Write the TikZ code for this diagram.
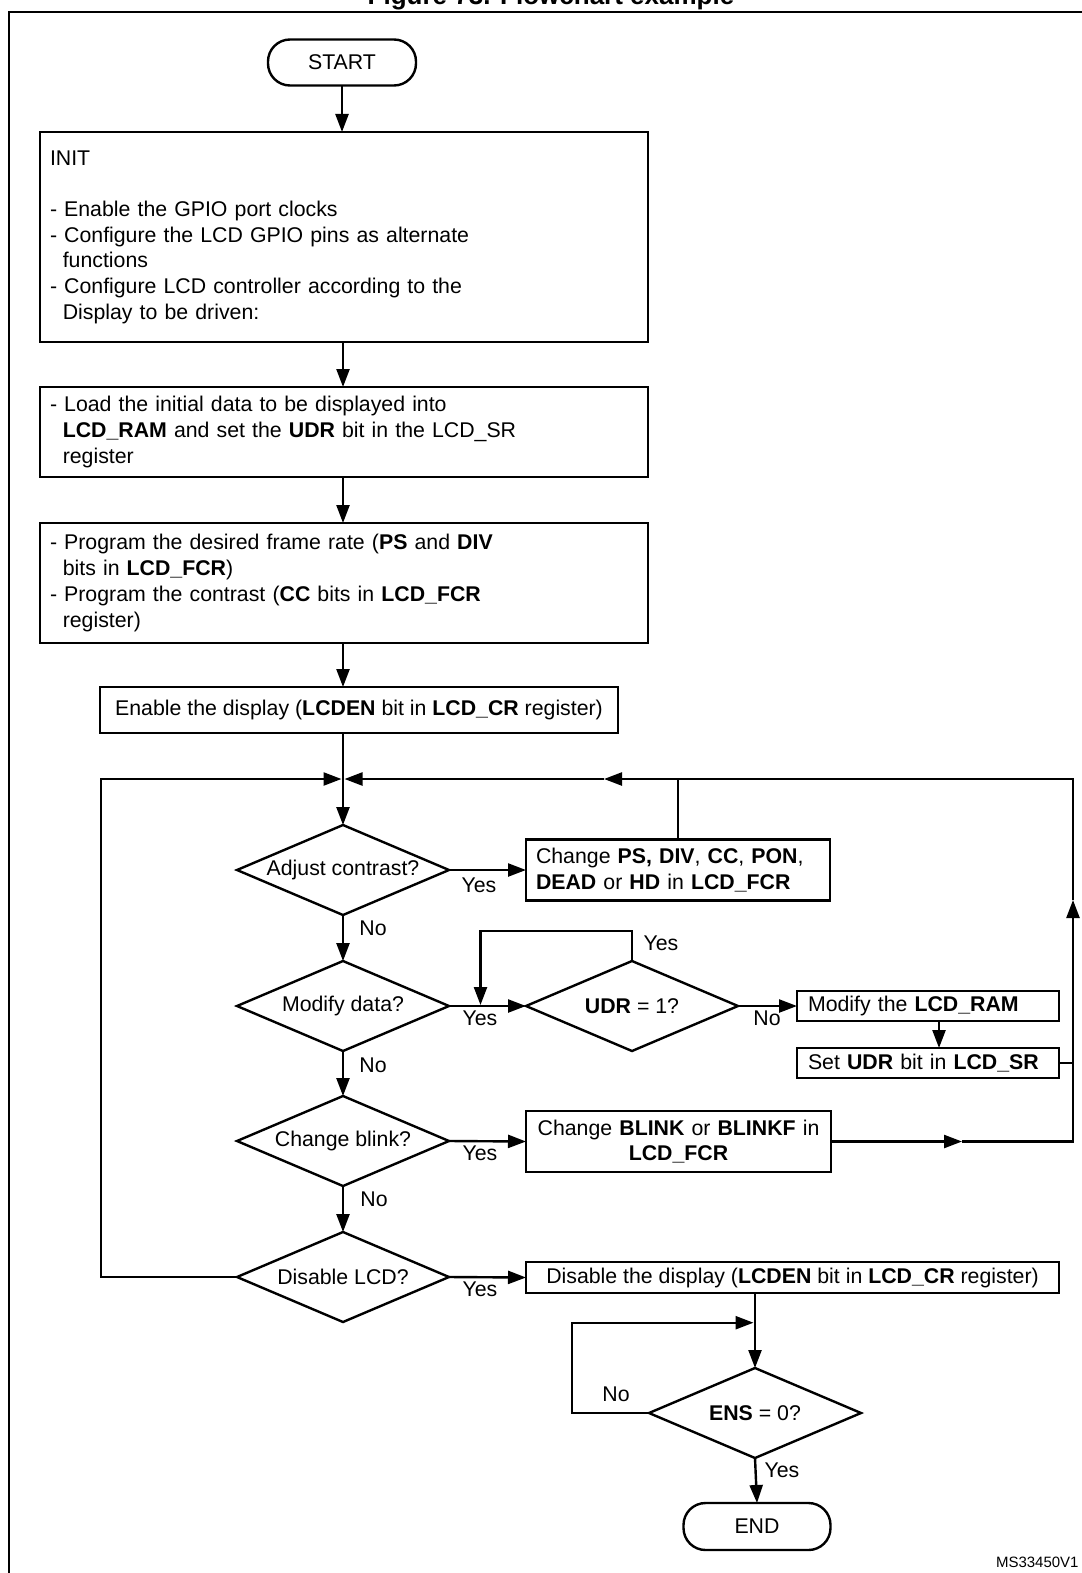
\documentclass[tikz,border=0pt]{standalone}
\usepackage{fontspec}
\setmainfont{Liberation Sans}
\usetikzlibrary{arrows.meta,shapes.geometric}
\newcommand\mfont{\fontsize{21.3pt}{25.7pt}\selectfont}
\begin{document}
\begin{tikzpicture}[x=1pt,y=1pt,
 every node/.style={font=\mfont, inner sep=0pt, outer sep=0pt},
 ln/.style={line width=2.4pt},
 arr/.style={line width=2.4pt,-{Triangle[length=18pt,width=13pt]}},
 box/.style={draw,line width=2.2pt,rectangle},
 lbox/.style={box, align=left, inner xsep=10pt},
 dia/.style={draw,line width=2.4pt,diamond,minimum width=212pt,minimum height=90pt},
 term/.style={draw,line width=2.4pt,rectangle,rounded corners=22pt,minimum width=148pt,minimum height=46pt}
]
\useasboundingbox (0,0) rectangle (1081,-1573);
\node[font=\fontsize{26pt}{30pt}\selectfont\bfseries, anchor=base] (title) at (551,-4.5) {Figure 73. Flowchart example};
\draw[ln] (9,-1600) -- (9,-11.8) -- (1100,-11.8);

\coordinate (col) at (343,0);
\node[term] (start) at (342,-62.5) {START};
\node[lbox, text width=588pt, minimum height=210pt] (init) at (344,-237)
 {INIT\\[25.7pt]- Enable the GPIO port clocks\\- Configure the LCD GPIO pins as alternate\\\hspace*{12.8pt}functions\\- Configure LCD controller according to the\\\hspace*{12.8pt}Display to be driven:};
\node[lbox, text width=588pt, minimum height=90pt] (b2) at (344,-432)
 {- Load the initial data to be displayed into\\\hspace*{12.8pt}\textbf{LCD\_RAM} and set the \textbf{UDR} bit in the LCD\_SR\\\hspace*{12.8pt}register};
\node[lbox, text width=588pt, minimum height=120pt] (b3) at (344,-583)
 {- Program the desired frame rate (\textbf{PS} and \textbf{DIV}\\\hspace*{12.8pt}bits in \textbf{LCD\_FCR})\\- Program the contrast (\textbf{CC} bits in \textbf{LCD\_FCR}\\\hspace*{12.8pt}register)};
\node[box, minimum width=518pt, minimum height=46pt] (enable) at (359,-710)
 {Enable the display (\textbf{LCDEN} bit in \textbf{LCD\_CR} register)};
\coordinate (j1) at (343,-779);
\coordinate (j1l) at (341.5,-779);
\coordinate (j1r) at (344.5,-779);

\node[dia, label=center:{Adjust contrast?}] (d1) at (343,-870) {};
\node[lbox, text width=284pt, minimum height=61pt] (chg) at (678,-870)
 {Change \textbf{PS,} \textbf{DIV}, \textbf{CC}, \textbf{PON},\\\textbf{DEAD} or \textbf{HD} in \textbf{LCD\_FCR}};
\node[dia, label=center:{Modify data?}] (d2) at (343,-1006) {};
\node[dia, label=center:{\textbf{UDR} = 1?}] (udr) at (632,-1006) {};
\node[lbox, inner xsep=11pt, text width=240pt, minimum height=30pt] (modify) at (928,-1006)
 {Modify the \textbf{LCD\_RAM}};
\node[lbox, inner xsep=11pt, text width=240pt, minimum height=30pt] (setudr) at (928,-1063)
 {Set \textbf{UDR} bit in \textbf{LCD\_SR}};
\node[dia, label=center:{Change blink?}] (d3) at (343,-1141) {};
\node[box, align=center, inner xsep=10pt, text width=285pt, minimum height=61pt] (blink) at (678.5,-1141.5)
 {Change \textbf{BLINK} or \textbf{BLINKF} in\\\textbf{LCD\_FCR}};
\node[dia, label=center:{Disable LCD?}] (d4) at (343,-1277) {};
\node[box, minimum width=533pt, minimum height=31pt] (dis) at (792.5,-1277.5)
 {Disable the display (\textbf{LCDEN} bit in \textbf{LCD\_CR} register)};
\node[dia, label=center:{\textbf{ENS} = 0?}] (ens) at (755,-1413) {};
\node[term, minimum width=147pt, minimum height=47pt] (end) at (757,-1526.5) {END};

\coordinate (u1) at (480.5,-931);
\coordinate (u2) at (480.5,-1005);
\coordinate (a1) at (962,-1141.5);
\coordinate (r1) at (1073,-1141.5);
\coordinate (a2) at (1073,-900);
\coordinate (r2) at (1073,-779);
\coordinate (a3) at (604,-779);
\coordinate (l1) at (101,-1277);
\coordinate (j2) at (755,-1322.7);
\coordinate (j2l) at (753.5,-1322.7);
\coordinate (e1) at (572,-1413);

\draw[arr] (start.south) -- (start.south |- init.north);
\draw[arr] (init.south -| col) -- (b2.north -| col);
\draw[arr] (b2.south -| col) -- (b3.north -| col);
\draw[arr] (b3.south -| col) -- (enable.north -| col);
\draw[ln] (enable.south -| col) -- (j1);
\draw[arr] (j1) -- (d1.north);
\draw[arr] (d1.east) -- (chg.west);
\draw[ln] (chg.north) -- (chg.north |- j1);
\draw[arr] (d1.south) -- (d2.north);
\draw[arr] (d2.east) -- (udr.west);
\draw[arr] (udr.north) |- (u1) -- (u2);
\draw[arr] (udr.east) -- (modify.west);
\draw[arr] ([xshift=11pt]modify.south) -- ([xshift=11pt]setudr.north);
\draw[ln] (setudr.east) -- (setudr.east -| r1);
\draw[arr] (d2.south) -- (d3.north);
\draw[arr] (d3.east) -- (blink.west);
\draw[arr] (blink.east) -- (a1);
\draw[arr] (a1) -- (r1) -- (a2);
\draw[arr] (a2) -- (r2) -- (a3);
\draw[arr] (a3) -- (j1r);
\draw[arr] (d3.south) -- (d4.north);
\draw[arr] (d4.east) -- (dis.west);
\draw[arr] (d4.west) -- (l1) |- (j1l);
\draw[ln] (dis.south -| j2) -- (j2);
\draw[arr] (j2) -- (ens.north);
\draw[arr] (ens.west) -- (e1) |- (j2l);
\draw[arr] (ens.south) -- (end.north);

\node (y1) at (479,-885) {Yes};
\node (n1) at (373,-928) {No};
\node (y2) at (661,-943) {Yes};
\node (y3) at (480,-1018) {Yes};
\node (n2) at (767,-1018) {No};
\node (n3) at (373,-1065) {No};
\node (y4) at (480,-1153) {Yes};
\node (n4) at (374,-1199) {No};
\node (y5) at (480,-1289) {Yes};
\node (n5) at (616,-1394) {No};
\node (y6) at (782,-1470) {Yes};
\node[font=\fontsize{15pt}{18pt}\selectfont, anchor=west] (ms) at (996,-1562) {MS33450V1};
\end{tikzpicture}
\end{document}
